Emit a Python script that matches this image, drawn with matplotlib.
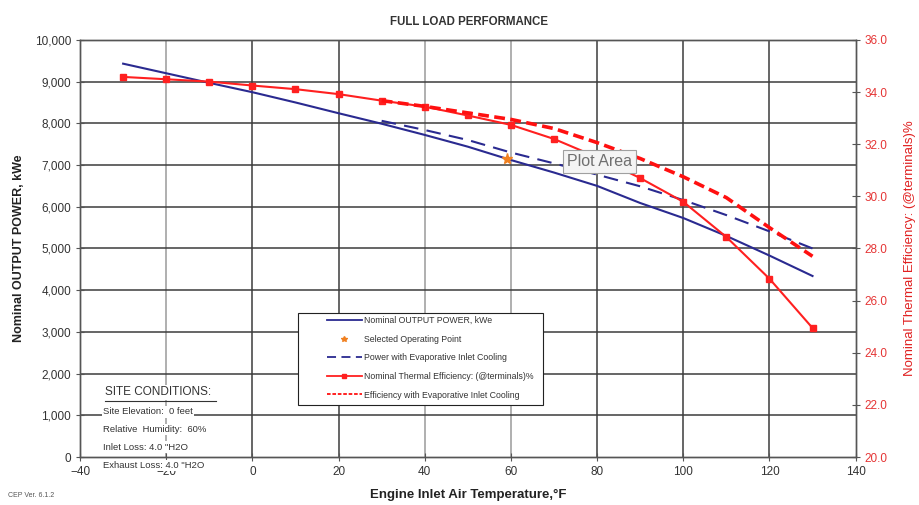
import numpy as np
import matplotlib as mpl
mpl.use('Agg')
import matplotlib.pyplot as plt
from matplotlib.lines import Line2D
from matplotlib.patches import Rectangle
from matplotlib.ticker import FuncFormatter

plt.rcParams['font.family'] = ['Liberation Sans', 'DejaVu Sans']

# --- data ---
temp_nom = [-30, -20, -10, 0, 10, 20, 30, 40, 50, 60, 70, 80, 90, 100, 110, 120, 130]
power_nom = [9430, 9200, 8970, 8746, 8500, 8242, 7990, 7722, 7440, 7120, 6820, 6500,
             6090, 5730, 5300, 4830, 4340]
eff_nom = [34.58, 34.49, 34.40, 34.25, 34.11, 33.92, 33.67, 33.44, 33.10, 32.74, 32.20,
           31.50, 30.70, 29.79, 28.44, 26.84, 24.95]

temp_evap = [30, 40, 50, 60, 70, 80, 90, 100, 110, 120, 130]
power_evap = [8060, 7840, 7600, 7300, 7040, 6770, 6490, 6160, 5800, 5410, 5000]
eff_evap = [33.67, 33.45, 33.20, 32.95, 32.60, 32.06, 31.45, 30.75, 29.95, 28.80, 27.70]

sel_temp, sel_power = 59, 7150

site_lines = ['Site Elevation:  0 feet', 'Relative  Humidity:  60%',
              'Inlet Loss: 4.0 "H2O', 'Exhaust Loss: 4.0 "H2O']

x_ticks = list(range(-40, 141, 20))
light_grid_x = [-20, 40, 60]

fig = plt.figure(figsize=(9.2, 5.05), dpi=100)
ax = fig.add_axes([0.087, 0.095, 0.843, 0.826])
ax2 = ax.twinx()

ax.set_xlim(-40, 140)
ax.set_ylim(0, 10000)
ax2.set_ylim(20, 36)
ax.set_xticks(x_ticks)
ax.set_yticks(range(0, 10001, 1000))
ax2.set_yticks(np.arange(20, 36.1, 2))
ax.yaxis.set_major_formatter(FuncFormatter(lambda v, p: f'{int(v):,}'))
ax2.yaxis.set_major_formatter(FuncFormatter(lambda v, p: f'{v:.1f}'))

# grid
for xv in x_ticks[1:-1]:
    ax.axvline(xv, color='#9a9a9a' if xv in light_grid_x else '#3c3c3c', lw=1.1, zorder=0)
for yv in range(1000, 10000, 1000):
    ax.axhline(yv, color='#3c3c3c', lw=1.1, zorder=0)

for a in (ax, ax2):
    for s in a.spines.values():
        s.set_color('#555555')
        s.set_linewidth(1.0)
    a.tick_params(direction='inout', length=6, width=0.8, colors='#555555', labelsize=8.5)
ax.tick_params(axis='both', labelcolor='#333333')
ax2.tick_params(axis='y', labelcolor='#e53535')

# series
ax.plot(temp_nom, power_nom, '-', color='#2a2a90', lw=1.5, zorder=3)
ax.plot(temp_evap, power_evap, '--', color='#2a2a90', lw=1.5, dashes=(7, 4), zorder=3)
ax.plot(sel_temp, sel_power, '*', color='#f08020', ms=8, zorder=4)
ax2.plot(temp_nom, eff_nom, '-', color='#ff2020', lw=1.5, marker='s', ms=5, zorder=3)
ax2.plot(temp_evap, eff_evap, '--', color='#ff1010', lw=2.6, dashes=(3, 1.5), zorder=3)

# labels
fig.text(0.51, 0.956, 'FULL LOAD PERFORMANCE', ha='center', va='center',
         fontsize=8.3, fontweight='bold', color='#333333')
ax.set_xlabel('Engine Inlet Air Temperature,°F', fontsize=9.5, fontweight='bold',
              color='#222222', labelpad=8)
ax.set_ylabel('Nominal OUTPUT POWER, kWe', fontsize=9, fontweight='bold',
              color='#222222', labelpad=7)
ax2.set_ylabel('Nominal Thermal Efficiency: (@terminals)%', fontsize=9.5,
               color='#e02020', labelpad=12)
fig.text(0.009, 0.015, 'CEP Ver. 6.1.2', fontsize=5, color='#555555')

# legend: frameless legend + separate box to get the wide left margin
box = Rectangle((0.281, 0.125), 0.316, 0.221, transform=ax2.transAxes, facecolor='white',
                edgecolor='#222222', lw=0.8, zorder=9)
ax2.add_patch(box)
handles = [Line2D([], [], color='#2a2a90', lw=1.3),
           Line2D([], [], color='#f08020', marker='*', ls='none', ms=4),
           Line2D([], [], color='#2a2a90', lw=1.3, ls='--', dashes=(5, 3)),
           Line2D([], [], color='#ff2020', lw=1.3, marker='s', ms=3),
           Line2D([], [], color='#ff1010', lw=1.3, ls='--', dashes=(2, 1))]
names = ['Nominal OUTPUT POWER, kWe', 'Selected Operating Point',
         'Power with Evaporative Inlet Cooling',
         'Nominal Thermal Efficiency: (@terminals)%',
         'Efficiency with Evaporative Inlet Cooling']
leg = ax2.legend(handles, names, loc='upper left', bbox_to_anchor=(0.318, 0.338),
                 fontsize=6.3, frameon=False, handlelength=4.0, labelspacing=1.1,
                 borderpad=0, handletextpad=0.3, borderaxespad=0)
leg.set_zorder(10)
for t in leg.get_texts():
    t.set_color('#333333')

# site conditions
ax2.text(0.032, 0.155, 'SITE CONDITIONS:', transform=ax2.transAxes, fontsize=8.5,
         color='#333333', va='center', ha='left', zorder=11,
         bbox=dict(facecolor='white', edgecolor='none', pad=1))
ax2.plot([0.032, 0.175], [0.134, 0.134], transform=ax2.transAxes, color='#333333',
         lw=0.8, zorder=12, clip_on=False)
site_y = [0.108, 0.066, 0.024, -0.021]
for line, yy in zip(site_lines, site_y):
    ax2.text(0.03, yy, line, transform=ax2.transAxes, fontsize=6.8, color='#333333',
             va='center', ha='left', zorder=11, clip_on=False,
             bbox=dict(facecolor='white', edgecolor='none', pad=0.8))

# "Plot Area" tooltip artifact
ax2.text(0.670, 0.709, 'Plot Area', transform=ax2.transAxes, fontsize=11.5,
         color='#707070', ha='center', va='center', zorder=12,
         bbox=dict(boxstyle='square,pad=0.25', facecolor='#f4f4f4', edgecolor='#a0a0a0', lw=0.8))

fig.savefig('out.png', dpi=100)
